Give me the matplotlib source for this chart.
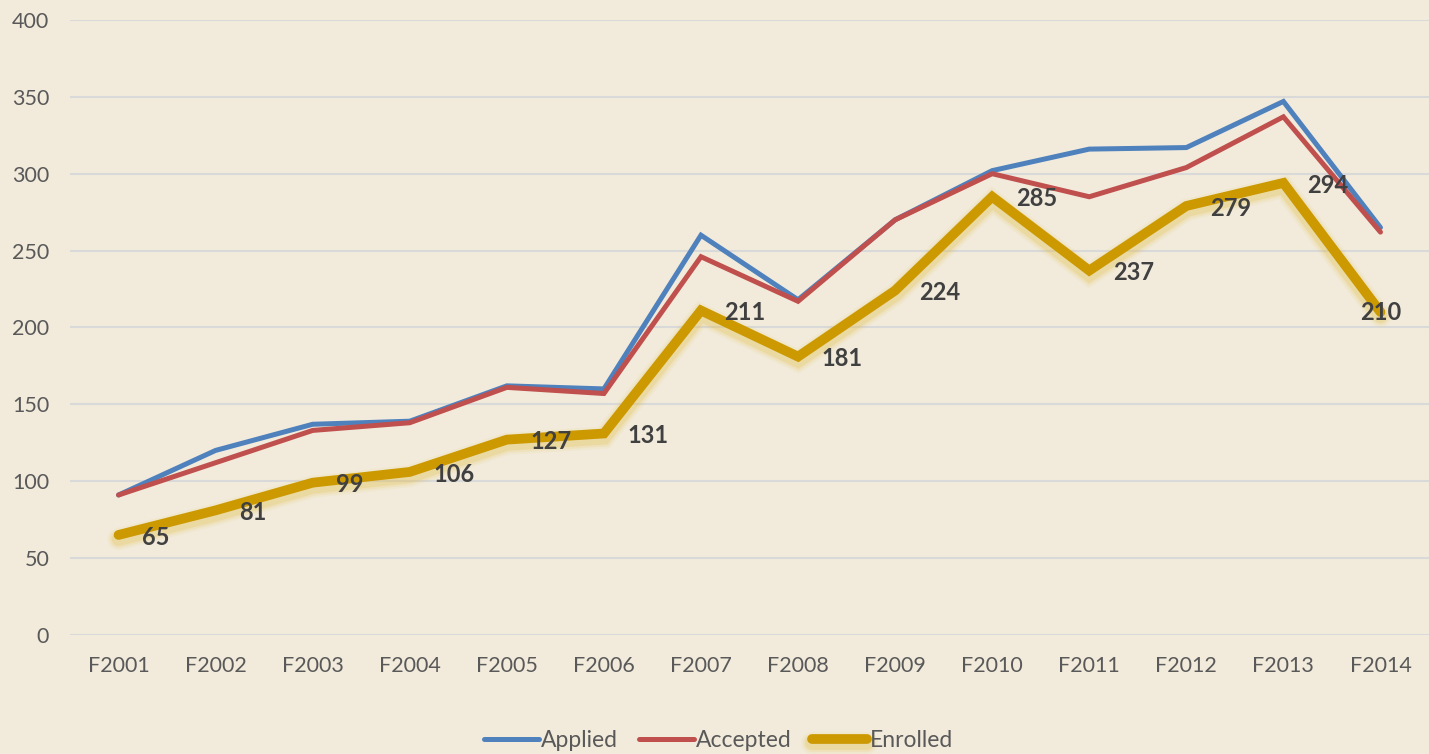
import matplotlib
matplotlib.use("Agg")
import matplotlib.pyplot as plt
import matplotlib.patheffects as pe
import numpy as np

plt.rcParams['font.family'] = ['Lato', 'DejaVu Sans']

years = ["F2001", "F2002", "F2003", "F2004", "F2005", "F2006", "F2007",
         "F2008", "F2009", "F2010", "F2011", "F2012", "F2013", "F2014"]
applied = [91, 120, 137, 139, 162, 160, 260, 218, 270, 302, 316, 317, 347, 265]
accepted = [91, 112, 133, 138, 161, 157, 246, 217, 270, 300, 285, 304, 337, 262]
enrolled = [65, 81, 99, 106, 127, 131, 211, 181, 224, 285, 237, 279, 294, 210]

bg = '#F2EBDC'
fig = plt.figure(figsize=(14.29, 7.54), dpi=100, facecolor=bg)
ax = fig.add_axes([0.049, 0.158, 0.951, 0.8155], facecolor=bg)

x = np.arange(len(years))

ax.plot(x, applied, color='#4F81BD', lw=3.6, solid_capstyle='round',
        solid_joinstyle='miter', label='Applied', zorder=3)
ax.plot(x, accepted, color='#C0504D', lw=3.6, solid_capstyle='round',
        solid_joinstyle='miter', label='Accepted', zorder=3)

# soft golden glow under the enrolled line
glow = [pe.Stroke(linewidth=w, foreground='#E3B93A', alpha=a, offset=(0, -3))
        for w, a in [(16, 0.08), (13, 0.12), (10, 0.2)]]
ax.plot(x, enrolled, color='#CC9900', lw=7, solid_capstyle='round',
        solid_joinstyle='miter', label='Enrolled', zorder=4,
        path_effects=glow + [pe.Normal()])

for i, v in enumerate(enrolled):
    if i == len(enrolled) - 1:
        ax.annotate(str(v), (i, v), xytext=(0, 0), textcoords='offset points',
                    ha='center', va='center', fontsize=17, fontweight='bold',
                    color='#404040', zorder=5)
    else:
        ax.annotate(str(v), (i, v), xytext=(17, -1.5), textcoords='offset points',
                    ha='left', va='center', fontsize=17, fontweight='bold',
                    color='#404040', zorder=5)

ax.set_xlim(-0.5, len(years) - 0.5)
ax.set_ylim(0, 400)
ax.set_yticks(range(0, 401, 50))
ax.set_xticks(x)
ax.set_xticklabels(years)
ax.grid(axis='y', color='#D9D9D9', lw=1.5)
ax.set_axisbelow(True)
for s in ax.spines.values():
    s.set_visible(False)
ax.tick_params(length=0, labelsize=15.5, colors='#595959')
ax.tick_params(axis='y', pad=15)
ax.tick_params(axis='x', pad=15)

leg = ax.legend(loc='center', bbox_to_anchor=(0.477, -0.172), ncol=3,
                frameon=False, fontsize=16.5, handlelength=2.4,
                handletextpad=0.1, columnspacing=0.9)
for t in leg.get_texts():
    t.set_color('#595959')

fig.savefig('out.png', dpi=100, facecolor=bg)
